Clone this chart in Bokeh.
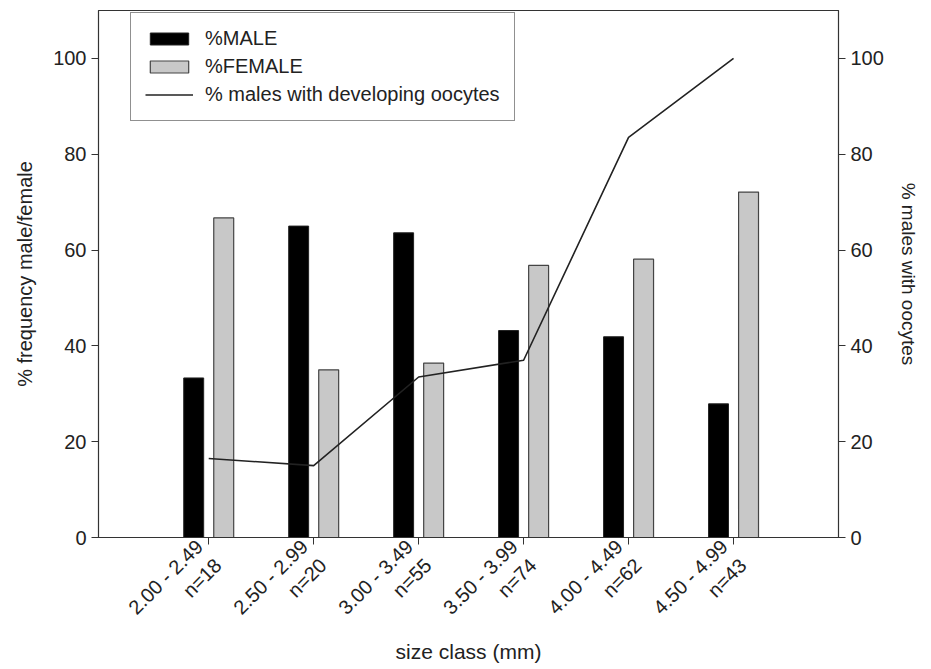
from bokeh.plotting import figure
from bokeh.models import Range1d, LinearAxis, FixedTicker, Legend, LegendItem, ColumnDataSource
from bokeh.embed import file_html
from bokeh.resources import INLINE
import math

categories = ["2.00 - 2.49", "2.50 - 2.99", "3.00 - 3.49", "3.50 - 3.99", "4.00 - 4.49", "4.50 - 4.99"]
n_values = [18, 20, 55, 74, 62, 43]
male_pct = [33.3, 65.0, 63.6, 43.2, 41.9, 27.9]
female_pct = [66.7, 35.0, 36.4, 56.8, 58.1, 72.1]
oocyte_pct = [16.5, 15.0, 33.5, 37.0, 83.5, 100.0]
y_ticks = [0, 20, 40, 60, 80, 100]

xpos = list(range(len(categories)))
FONT = "Liberation Sans"

p = figure(frame_width=740, frame_height=527, output_backend="svg", toolbar_location=None,
           x_range=Range1d(-1.05, 6.0), y_range=Range1d(0, 110),
           min_border_left=98, min_border_right=80, min_border_top=10, min_border_bottom=100)
p.background_fill_color = "white"
p.outline_line_color = "#333333"
p.outline_line_width = 1.2
p.grid.visible = False

src = ColumnDataSource(dict(xm=[x - 0.143 for x in xpos], xf=[x + 0.143 for x in xpos],
                            x=xpos, male=male_pct, female=female_pct, ooc=oocyte_pct))

r_m = p.vbar(x="xm", top="male", width=0.19, bottom=0, source=src,
             fill_color="black", line_color="#222222", line_width=1)
r_f = p.vbar(x="xf", top="female", width=0.19, bottom=0, source=src,
             fill_color="#c8c8c8", line_color="#444444", line_width=1.2)

p.extra_y_ranges = {"ooc": Range1d(0, 110)}
r_l = p.line(x="x", y="ooc", source=src, y_range_name="ooc", line_color="#222222", line_width=1.6)

xa = p.xaxis[0]
xa.ticker = FixedTicker(ticks=xpos)
xa.major_label_overrides = {i: f"{c}\nn={n}" for i, (c, n) in enumerate(zip(categories, n_values))}
xa.major_label_orientation = math.pi / 4
xa.axis_label = "size class (mm)"

ya = p.yaxis[0]
ya.ticker = FixedTicker(ticks=y_ticks)
ya.axis_label = "% frequency male/female"

ra = LinearAxis(y_range_name="ooc", axis_label="% males with oocytes")
ra.ticker = FixedTicker(ticks=y_ticks)
p.add_layout(ra, "right")

for ax in [xa, ya, ra]:
    ax.axis_line_color = "#333333"
    ax.major_tick_line_color = "#333333"
    ax.major_tick_in = 0
    ax.major_tick_out = 7
    ax.minor_tick_line_color = None
    ax.major_label_text_font = FONT
    ax.major_label_text_font_size = "20px"
    ax.major_label_text_color = "#222222"
    ax.axis_label_text_font = FONT
    ax.axis_label_text_font_style = "normal"
    ax.axis_label_text_color = "#222222"
    ax.major_label_standoff = 5

xa.axis_label_text_font_size = "21px"
ya.axis_label_text_font_size = "20px"
ra.axis_label_text_font_size = "19px"
xa.major_label_standoff = 8
xa.axis_label_standoff = -17
ya.axis_label_standoff = 14
ra.axis_label_standoff = 11

legend = Legend(items=[LegendItem(label="%MALE", renderers=[r_m]),
                       LegendItem(label="%FEMALE", renderers=[r_f]),
                       LegendItem(label="% males with developing oocytes", renderers=[r_l])],
                location=(32, 416))
legend.label_text_font = FONT
legend.label_text_font_size = "20px"
legend.label_text_color = "#222222"
legend.border_line_color = "#222222"
legend.border_line_width = 1
legend.glyph_width = 48
legend.glyph_height = 15
legend.label_height = 22
legend.spacing = 5
legend.padding = 14
legend.margin = 0
legend.label_standoff = 12
legend.background_fill_alpha = 1
p.add_layout(legend, "center")

open("out.html", "w").write(file_html(p, INLINE))
